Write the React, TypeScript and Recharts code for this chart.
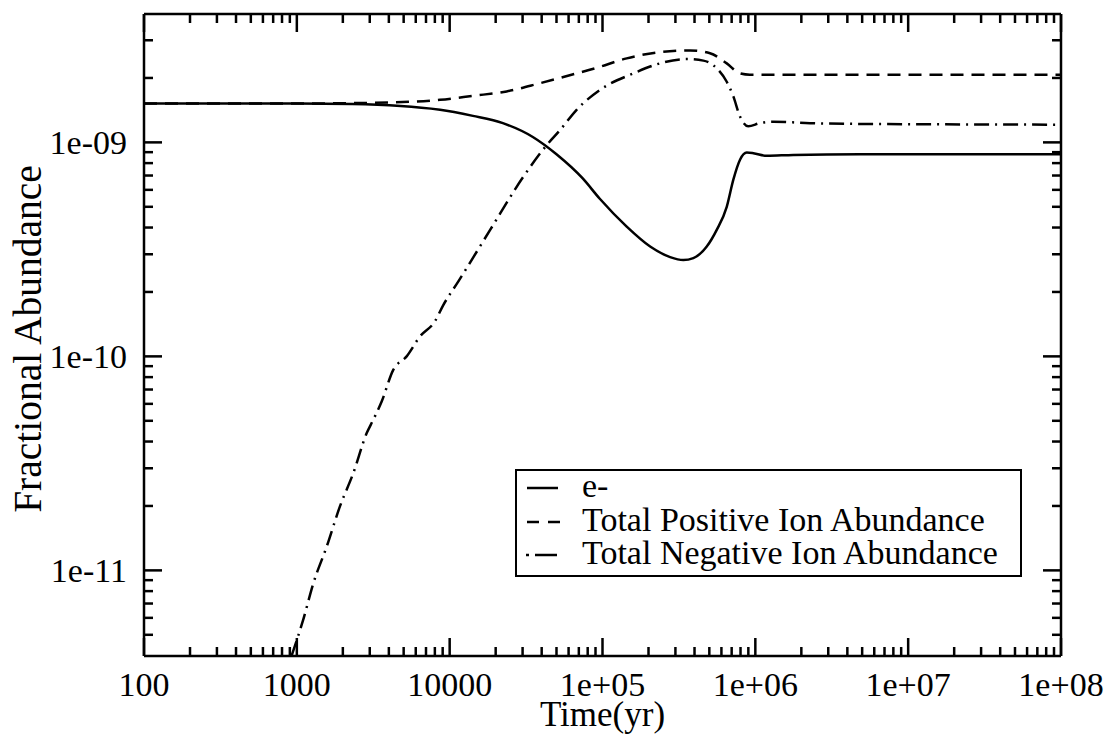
import React from "react";
import { LineChart, Line, XAxis, YAxis, Legend, Label } from "recharts";

// ---- data ----
const eTime = [100, 1000, 2300, 8650, 14200, 22300, 35000, 50000, 74000, 96000, 144000, 205000, 277000, 338000, 393000, 481000, 559000, 650000, 718000, 794000, 879000, 971000, 1190000, 1770000, 4850000, 1e8];
const eAbund = [1.52e-9, 1.52e-9, 1.51e-9, 1.42e-9, 1.33e-9, 1.23e-9, 1.06e-9, 8.8e-10, 6.8e-10, 5.45e-10, 4.04e-10, 3.26e-10, 2.91e-10, 2.82e-10, 2.88e-10, 3.26e-10, 3.9e-10, 5.0e-10, 6.7e-10, 8.3e-10, 8.96e-10, 8.9e-10, 8.65e-10, 8.74e-10, 8.8e-10, 8.8e-10];

const posTime = [100, 1000, 3160, 8650, 14200, 23600, 39000, 64400, 91600, 144000, 238000, 374000, 505000, 650000, 794000, 922000, 2000000, 1e8];
const posAbund = [1.52e-9, 1.52e-9, 1.53e-9, 1.58e-9, 1.65e-9, 1.73e-9, 1.89e-9, 2.08e-9, 2.23e-9, 2.47e-9, 2.64e-9, 2.69e-9, 2.61e-9, 2.34e-9, 2.1e-9, 2.07e-9, 2.07e-9, 2.07e-9];

const negTime = [925, 1100, 1282, 1567, 1914, 2342, 2866, 3160, 3590, 4275, 5230, 6400, 8020, 9100, 11400, 18400, 30300, 43100, 52700, 67700, 96400, 159000, 238000, 356000, 457000, 559000, 650000, 718000, 794000, 899000, 1070000, 1310000, 2280000, 4850000, 1e8];
const negAbund = [4.0e-12, 5.87e-12, 8.7e-12, 1.29e-11, 1.99e-11, 2.85e-11, 4.38e-11, 5.05e-11, 6.15e-11, 8.65e-11, 1.0e-10, 1.24e-10, 1.46e-10, 1.74e-10, 2.24e-10, 3.9e-10, 6.9e-10, 9.7e-10, 1.14e-9, 1.42e-9, 1.76e-9, 2.1e-9, 2.34e-9, 2.45e-9, 2.41e-9, 2.22e-9, 1.92e-9, 1.64e-9, 1.32e-9, 1.19e-9, 1.23e-9, 1.25e-9, 1.23e-9, 1.22e-9, 1.21e-9];

const seriesNames = ["e-", "Total Positive Ion Abundance", "Total Negative Ion Abundance"];

const xDomain = [100, 1e8];
const yDomain = [3.98e-12, 3.98e-9];
const xMajorTicks = [100, 1000, 10000, 1e5, 1e6, 1e7, 1e8];
const xMajorLabels = ["100", "1000", "10000", "1e+05", "1e+06", "1e+07", "1e+08"];
const yMajorTicks = [1e-11, 1e-10, 1e-9];
const yMajorLabels = ["1e-11", "1e-10", "1e-09"];
const xTitle = "Time(yr)";
const yTitle = "Fractional Abundance";

// ---- build tables / tick lists ----
const zip = (ts: number[], vs: number[]) => ts.map((t, i) => ({ t, v: vs[i] }));
const eData = zip(eTime, eAbund);
const posData = zip(posTime, posAbund);
const negData = zip(negTime, negAbund);

const minorList = (lo: number, hi: number) => {
  const out: number[] = [];
  for (let e = Math.floor(Math.log10(lo)); e <= Math.ceil(Math.log10(hi)); e++) {
    for (let m = 1; m <= 9; m++) {
      const v = m * Math.pow(10, e);
      if (v >= lo * 0.999 && v <= hi * 1.001) out.push(v);
    }
  }
  return out;
};
const xTicks = minorList(xDomain[0], xDomain[1]);
const yTicks = minorList(yDomain[0] * 1.01, yDomain[1] * 0.99);

const FONT = "Liberation Serif, serif";
const isMajor = (v: number) => Math.abs(Math.log10(v) - Math.round(Math.log10(v))) < 1e-6;
const labelFor = (v: number, majors: number[], labels: string[]) => {
  const i = majors.findIndex((m) => Math.abs(Math.log10(m) - Math.log10(v)) < 1e-6);
  return i >= 0 ? labels[i] : "";
};
const MAJ = 18;
const MIN = 9;
const SW = 2.5;
const txt = { fontFamily: FONT };

const LeftTick = (p: any) => {
  const { x, y, payload } = p;
  const v = payload.value;
  const maj = isMajor(v);
  return (
    <g>
      <line x1={x} x2={x + (maj ? MAJ : MIN)} y1={y} y2={y} stroke="#000" strokeWidth={SW} />
      {maj && (
        <text x={x - 17} y={y + 12} textAnchor="end" style={txt} fontSize={34} fill="#000">
          {labelFor(v, yMajorTicks, yMajorLabels)}
        </text>
      )}
    </g>
  );
};
const RightTick = (p: any) => {
  const { x, y, payload } = p;
  const maj = isMajor(payload.value);
  return <line x1={x} x2={x - (maj ? MAJ : MIN)} y1={y} y2={y} stroke="#000" strokeWidth={SW} />;
};
const BottomTick = (p: any) => {
  const { x, y, payload } = p;
  const v = payload.value;
  const maj = isMajor(v);
  return (
    <g>
      <line x1={x} x2={x} y1={y} y2={y - (maj ? MAJ : MIN)} stroke="#000" strokeWidth={SW} />
      {maj && (
        <text x={x} y={y + 40} textAnchor="middle" style={txt} fontSize={34} fill="#000">
          {labelFor(v, xMajorTicks, xMajorLabels)}
        </text>
      )}
    </g>
  );
};
const TopTick = (p: any) => {
  const { x, y, payload } = p;
  const maj = isMajor(payload.value);
  return <line x1={x} x2={x} y1={y} y2={y + (maj ? MAJ : MIN)} stroke="#000" strokeWidth={SW} />;
};

const LegendBox = () => {
  const W = 507;
  const H = 108;
  const rows = [19, 53, 86];
  return (
    <svg width={W} height={H} style={{ display: "block" }}>
      <rect x={1} y={1} width={W - 2} height={H - 2} fill="#fff" stroke="#000" strokeWidth={2} />
      <line x1={12} x2={43} y1={rows[0]} y2={rows[0]} stroke="#000" strokeWidth={SW} />
      <line x1={12} x2={45} y1={rows[1]} y2={rows[1]} stroke="#000" strokeWidth={SW} strokeDasharray="12 9" />
      <line x1={11} x2={14} y1={rows[2]} y2={rows[2]} stroke="#000" strokeWidth={SW} />
      <line x1={20} x2={42} y1={rows[2]} y2={rows[2]} stroke="#000" strokeWidth={SW} />
      {seriesNames.map((n, i) => (
        <text key={n} x={67} y={rows[i] + 9} style={txt} fontSize={34} fill="#000">
          {n}
        </text>
      ))}
    </svg>
  );
};

export default function App() {
  return (
    <div style={{ position: "absolute", left: 0, top: 0, width: 1114, height: 735, background: "#fff" }}>
      <LineChart width={1114} height={735} margin={{ top: 13, right: 52, bottom: 0, left: 0 }}>
        <XAxis
          xAxisId="bottom"
          dataKey="t"
          type="number"
          scale="log"
          domain={xDomain}
          allowDataOverflow
          ticks={xTicks}
          interval={0}
          tickSize={0}
          tickMargin={0}
          tick={BottomTick}
          tickLine={false}
          axisLine={{ stroke: "#000", strokeWidth: SW }}
          height={79}
        >
          <Label
            content={(props: any) => {
              const vb = props.viewBox;
              return (
                <text x={vb.x + vb.width / 2} y={vb.y + 70} textAnchor="middle" style={txt} fontSize={35} fill="#000">
                  {xTitle}
                </text>
              );
            }}
          />
        </XAxis>
        <XAxis
          xAxisId="top"
          orientation="top"
          dataKey="t"
          type="number"
          scale="log"
          domain={xDomain}
          allowDataOverflow
          ticks={xTicks}
          interval={0}
          tickSize={0}
          tickMargin={0}
          tick={TopTick}
          tickLine={false}
          axisLine={{ stroke: "#000", strokeWidth: SW }}
          height={1}
        />
        <YAxis
          yAxisId="left"
          dataKey="v"
          type="number"
          scale="log"
          domain={yDomain}
          allowDataOverflow
          ticks={yTicks}
          interval={0}
          tickSize={0}
          tickMargin={0}
          tick={LeftTick}
          tickLine={false}
          axisLine={{ stroke: "#000", strokeWidth: SW }}
          width={144}
        >
          <Label
            content={(props: any) => {
              const vb = props.viewBox;
              const cy = vb.y + vb.height / 2 + 4;
              return (
                <text
                  x={41}
                  y={cy}
                  transform={`rotate(-90 41 ${cy})`}
                  textAnchor="middle"
                  style={txt}
                  fontSize={39.5}
                  fill="#000"
                >
                  {yTitle}
                </text>
              );
            }}
          />
        </YAxis>
        <YAxis
          yAxisId="right"
          orientation="right"
          dataKey="v"
          type="number"
          scale="log"
          domain={yDomain}
          allowDataOverflow
          ticks={yTicks}
          interval={0}
          tickSize={0}
          tickMargin={0}
          tick={RightTick}
          tickLine={false}
          axisLine={{ stroke: "#000", strokeWidth: SW }}
          width={1}
        />
        <Line
          xAxisId="bottom"
          yAxisId="left"
          data={eData}
          dataKey="v"
          name={seriesNames[0]}
          type="monotone"
          stroke="#000"
          strokeWidth={SW}
          dot={false}
          isAnimationActive={false}
        />
        <Line
          xAxisId="bottom"
          yAxisId="left"
          data={posData}
          dataKey="v"
          name={seriesNames[1]}
          type="monotone"
          stroke="#000"
          strokeWidth={SW}
          strokeDasharray="13 8"
          dot={false}
          isAnimationActive={false}
        />
        <Line
          xAxisId="bottom"
          yAxisId="left"
          data={negData}
          dataKey="v"
          name={seriesNames[2]}
          type="monotone"
          stroke="#000"
          strokeWidth={SW}
          strokeDasharray="15 6 2 6"
          dot={false}
          isAnimationActive={false}
        />
        <Legend
          layout="horizontal"
          verticalAlign="middle"
          align="center"
          content={() => <LegendBox />}
          wrapperStyle={{ position: "absolute", left: 515, top: 469, width: 507, height: 108 }}
        />
      </LineChart>
    </div>
  );
}
